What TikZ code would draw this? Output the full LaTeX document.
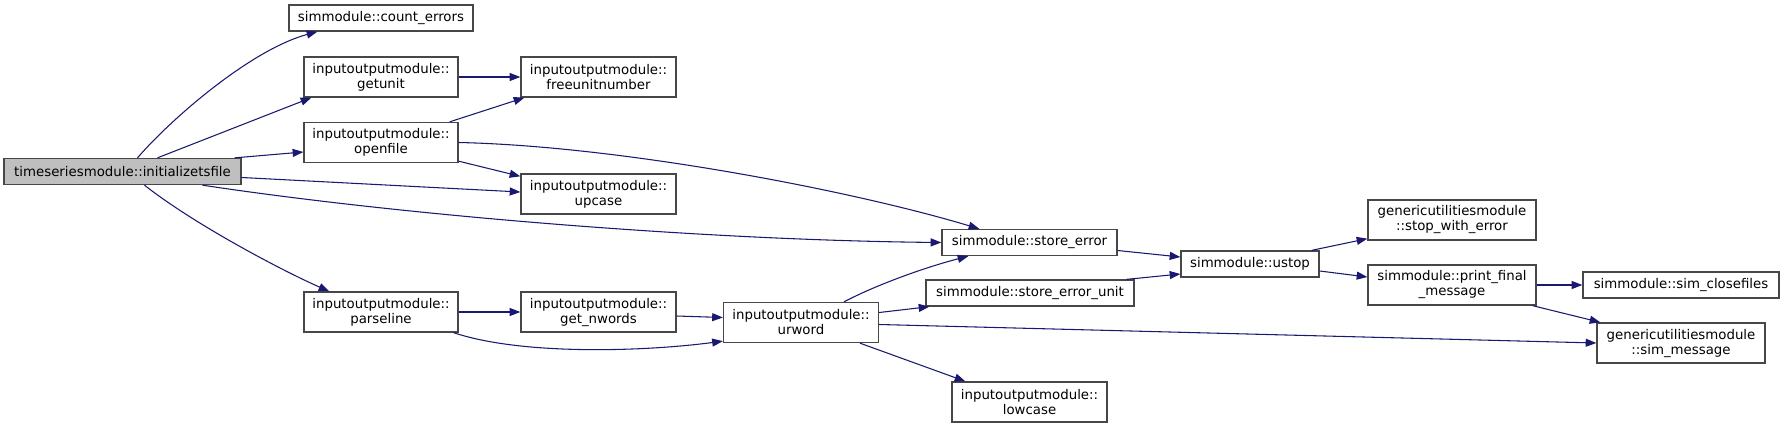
\documentclass[tikz,border=0pt]{standalone}
\usepackage{fontspec}
\setmainfont{DejaVu Sans}
\usetikzlibrary{arrows.meta,calc}
\definecolor{edgeblue}{HTML}{191970}
\begin{document}
\begin{tikzpicture}[x=0.75pt, y=-0.75pt, every node/.style={font=\fontsize{10}{11.25}\selectfont},
  fn/.style={draw=black!72,line width=1pt,fill=white,minimum height=19.5pt,inner sep=1pt,align=center},
  fntwo/.style={fn,minimum height=30pt},
  call/.style={draw=edgeblue,line width=0.8pt,-{Triangle[length=8pt,width=6pt]}}]
\useasboundingbox (0,0) rectangle (1784,429);
\node[fn,fill=black!25,minimum width=177.75pt] (init) at (122.5,171.5) {timeseriesmodule::initializetsfile};
\node[fn,minimum width=138pt] (cnterr) at (381,18) {simmodule::count\_errors};
\node[fntwo,minimum width=115.5pt] (getunit) at (381,77) {inputoutputmodule::\\getunit};
\node[fntwo,minimum width=116.25pt] (freeunit) at (598.5,77) {inputoutputmodule::\\freeunitnumber};
\node[fntwo,minimum width=115.5pt] (openfile) at (381,142.5) {inputoutputmodule::\\openfile};
\node[fntwo,minimum width=116.25pt] (upcase) at (598.5,194) {inputoutputmodule::\\upcase};
\node[fntwo,minimum width=115.5pt] (parseline) at (381,312) {inputoutputmodule::\\parseline};
\node[fntwo,minimum width=116.25pt] (nwords) at (598.5,312) {inputoutputmodule::\\get\_nwords};
\node[fntwo,minimum width=116.25pt] (urword) at (801,322.5) {inputoutputmodule::\\urword};
\node[fn,minimum width=131.25pt] (storeerr) at (1029.5,242.5) {simmodule::store\_error};
\node[fn,minimum width=156pt] (storeunit) at (1030,293) {simmodule::store\_error\_unit};
\node[fntwo,minimum width=116.25pt] (lowcase) at (1029.5,402) {inputoutputmodule::\\lowcase};
\node[fn,minimum width=103.5pt] (ustop) at (1250,264) {simmodule::ustop};
\node[fntwo,minimum width=126pt] (stopwerr) at (1452,220) {genericutilitiesmodule\\::stop\_with\_error};
\node[fntwo,minimum width=126pt] (prfinal) at (1452,285) {simmodule::print\_final\\\_message};
\node[fn,minimum width=147pt] (closef) at (1681,285) {simmodule::sim\_closefiles};
\node[fntwo,minimum width=126pt] (simmsg) at (1681,343) {genericutilitiesmodule\\::sim\_message};
\draw[call] ($(init.north)+(15,0)$) .. controls (170,120) and (250,50) .. ($(cnterr.south west)+(29,0)$);
\draw[call] ($(init.north)+(35,0)$) -- ($(getunit.south west)+(8,0)$);
\draw[call] ($(init.north east)+(-7,0)$) -- ($(openfile.west)+(0,9.5)$);
\draw[call] ($(init.east)+(0,6)$) -- ($(upcase.west)+(0,-2)$);
\draw[call] ($(init.south)+(80,0)$) .. controls (400,215) and (700,240) .. (storeerr.west);
\draw[call] ($(init.south)+(22,0)$) .. controls (195,225) and (285,272) .. ($(parseline.north west)+(26,0)$);
\draw[call] (getunit.east) -- (freeunit.west);
\draw[call] ($(openfile.north east)+(-9,0)$) -- ($(freeunit.south west)+(4,0)$);
\draw[call] ($(openfile.south east)+(0,-2)$) -- ($(upcase.north west)+(0,3)$);
\draw[call] (openfile.east) .. controls (620,146) and (850,190) .. ($(storeerr.north west)+(38,0)$);
\draw[call] (parseline.east) -- (nwords.west);
\draw[call] ($(parseline.south east)+(-5,0)$) .. controls (520,355) and (640,352) .. ($(urword.south west)+(0,-2)$);
\draw[call] ($(nwords.east)+(0,4)$) -- ($(urword.west)+(0,-5)$);
\draw[call] ($(urword.north)+(43,0)$) .. controls (880,283) and (930,266) .. ($(storeerr.south west)+(27,0)$);
\draw[call] ($(urword.east)+(0,-10)$) -- ($(storeunit.south west)+(4,0)$);
\draw[call] ($(urword.east)+(0,2)$) -- (simmsg.west);
\draw[call] ($(urword.south)+(59,0)$) -- ($(lowcase.north west)+(14,0)$);
\draw[call] ($(storeerr.east)+(0,8)$) -- ($(ustop.west)+(0,-7)$);
\draw[call] ($(storeunit.north east)+(-8,0)$) -- ($(ustop.west)+(0,10)$);
\draw[call] ($(ustop.north east)+(-8,0)$) -- ($(stopwerr.south west)+(0,-2)$);
\draw[call] ($(ustop.east)+(0,7)$) -- ($(prfinal.west)+(0,-8)$);
\draw[call] (prfinal.east) -- (closef.west);
\draw[call] ($(prfinal.south east)+(-4,0)$) -- ($(simmsg.north west)+(4,0)$);
\end{tikzpicture}
\end{document}
